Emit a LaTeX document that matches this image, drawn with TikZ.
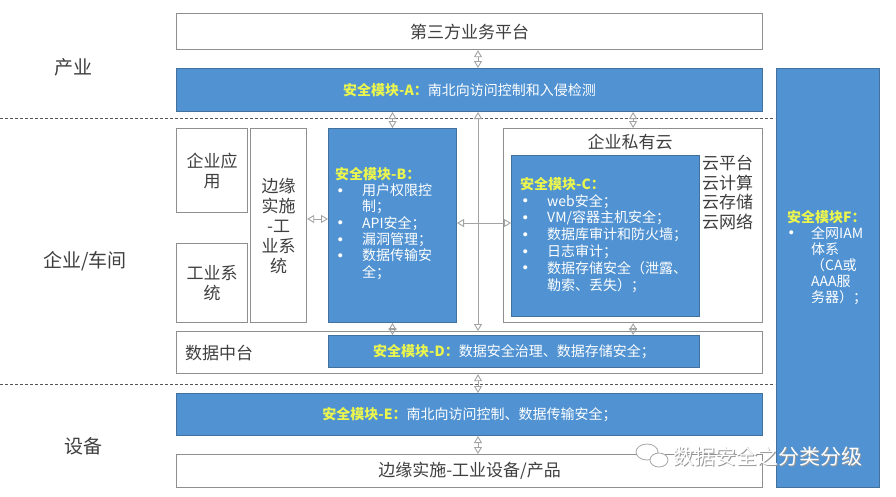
\documentclass[tikz,border=0pt]{standalone}
\usepackage{fontspec}
\setmainfont{Noto Sans CJK SC}
\usetikzlibrary{arrows.meta}
\definecolor{mblue}{HTML}{5092D2}
\definecolor{mborder}{HTML}{41719C}
\definecolor{yel}{HTML}{EAF54E}
\definecolor{gline}{HTML}{A3A3A3}
\definecolor{gtext}{HTML}{3F3F3F}
\definecolor{gbox}{HTML}{8F8F8F}
\definecolor{gdash}{HTML}{555555}
\newcommand\mydot{\raisebox{3.5pt}{\fontsize{4.5}{4.5}\selectfont ●}}
\newcommand\mybul{\makebox[27pt][l]{\hspace*{3pt}\mydot}}
\newcommand\myind{\hspace*{27pt}}
\newcommand\myttl[1]{\textcolor{yel}{\bfseries #1}}
\begin{document}
\begin{tikzpicture}[x=1pt,y=-1pt,
  wbox/.style={draw=gbox, line width=1.2pt, fill=white, anchor=north west, inner sep=0pt,
     text=gtext, font=\fontsize{17}{20}\selectfont, align=center},
  bbox/.style={draw=mborder, line width=1pt, fill=mblue, anchor=north west, inner sep=0pt,
     text=white, font=\fontsize{14}{16.3}\selectfont, align=center},
  btxt/.style={text=white, inner sep=0pt, align=left, anchor=north west},
  lbl/.style={text=gtext, font=\fontsize{17}{20}\selectfont, inner sep=0pt},
  side/.style={text=gtext, font=\fontsize{19}{22}\selectfont, inner sep=0pt},
  dline/.style={draw=gdash, line width=1pt, dash pattern=on 3pt off 2pt},
  arr/.style={draw=gline, line width=0.9pt,
     {Triangle[open,length=7pt,width=8pt]}-{Triangle[open,length=7pt,width=8pt]}}]
\useasboundingbox (0,0) rectangle (896,496);
\fill[white] (0,0) rectangle (896,496);

% dashed separators
\coordinate (d1a) at (0,118); \coordinate (d1b) at (775,118);
\coordinate (d2a) at (0,384); \coordinate (d2b) at (775,384);
\draw[dline] (d1a) -- (d1b);
\draw[dline] (d2a) -- (d2b);

% side labels
\node[side] (s1) at (73,67) {产业};
\node[side] (s2) at (85,261) {企业/车间};
\node[side] (s3) at (83,446) {设备};

% boxes
\node[wbox, minimum width=586pt, minimum height=36pt] (third) at (176,13) {第三方业务平台};
\node[bbox, minimum width=586pt, minimum height=43pt] (modA) at (176,68) {\myttl{安全模块-A：}南北向访问控制和入侵检测};
\node[bbox, minimum width=103pt, minimum height=419pt] (modF) at (776,68) {};

\node[wbox, minimum width=71pt, minimum height=84pt] (app) at (176,128) {企业应\\用};
\node[wbox, minimum width=71pt, minimum height=79pt] (ind) at (176,243) {工业系\\统};
\node[wbox, minimum width=56pt, minimum height=194pt] (edge) at (250,128) {边缘\\实施\\-工\\业系\\统};
\node[bbox, minimum width=128pt, minimum height=194pt] (modB) at (328,128) {};
\node[wbox, minimum width=259pt, minimum height=194pt] (cloud) at (503,128) {};
\node[bbox, minimum width=188pt, minimum height=161pt] (modC) at (511,155) {};

\node[wbox, minimum width=586pt, minimum height=42pt] (dc) at (176,331) {};
\node[bbox, minimum width=371pt, minimum height=32pt] (modD) at (328,335) {\myttl{安全模块-D：}数据安全治理、数据存储安全；};
\node[bbox, minimum width=586pt, minimum height=42pt] (modE) at (176,393) {\myttl{安全模块-E：}南北向访问控制、数据传输安全；};
\node[wbox, minimum width=586pt, minimum height=33pt] (bottom) at (176,454) {边缘实施-工业设备/产品};

% labels inside white boxes
\node[lbl] (cloudt) at (630,142) {企业私有云};
\node[lbl, anchor=north west, align=left, font=\fontsize{17}{19.7}\selectfont] (cloudl) at (702,155) {云平台\\云计算\\云存储\\云网络};
\node[lbl, anchor=west] (dct) at (185,353) {数据中台};

% module texts
\node[btxt, font=\fontsize{14}{16.3}\selectfont] (tB) at (335,167) {\myttl{安全模块-B：}\\
\mybul 用户权限控\\ \myind 制；\\ \mybul API安全；\\ \mybul 漏洞管理；\\ \mybul 数据传输安\\ \myind 全；};
\node[btxt, font=\fontsize{14}{16.8}\selectfont] (tC) at (520,177) {\myttl{安全模块-C：}\\
\mybul web安全；\\ \mybul VM/容器主机安全；\\ \mybul 数据库审计和防火墙；\\ \mybul 日志审计；\\ \mybul 数据存储安全（泄露、\\ \myind 勒索、丢失）；};
\node[btxt, font=\fontsize{14}{16}\selectfont] (tF) at (787,210) {\myttl{安全模块F：}\\
\makebox[24pt][l]{\hspace*{2pt}\mydot}全网IAM\\ \hspace*{24pt}体系\\ \hspace*{24pt}（CA或\\ \hspace*{24pt}AAA服\\ \hspace*{24pt}务器）；};

% connectors
\coordinate (xm) at (478,0);
\coordinate (ya) at (0,219);
\coordinate (yb) at (0,223);
\draw[arr] (third.south -| xm) -- (modA.north -| xm);
\draw[arr] (modA.south -| modB.north) -- (modB.north);
\draw[arr] (modA.south -| cloud.north) -- (cloud.north);
\draw[arr] (modA.south -| xm) -- (dc.north -| xm);
\draw[arr] (edge.east |- ya) -- (modB.west |- ya);
\draw[arr] (modB.east |- yb) -- (modC.west |- yb);
\draw[arr] (modB.south) -- (modB.south |- modD.north);
\draw[arr] (cloud.south) -- (cloud.south |- modD.north);
\draw[arr] (dc.south -| xm) -- (modE.north -| xm);
\draw[arr] (modE.south -| xm) -- (bottom.north -| xm);

% watermark
\draw[gray!70, line width=0.8pt, fill=white] (647,452) ellipse (11pt and 8pt);
\draw[gray!70, line width=0.8pt, fill=white] (659,460) ellipse (9pt and 7pt);
\node[text=gray!80, font=\fontsize{21}{21}\selectfont, inner sep=0pt] (wms) at (768.6,457.8) {数据安全之分类分级};
\node[text=white, font=\fontsize{21}{21}\selectfont, inner sep=0pt] (wm) at (767.6,456.8) {数据安全之分类分级};
\end{tikzpicture}
\end{document}
